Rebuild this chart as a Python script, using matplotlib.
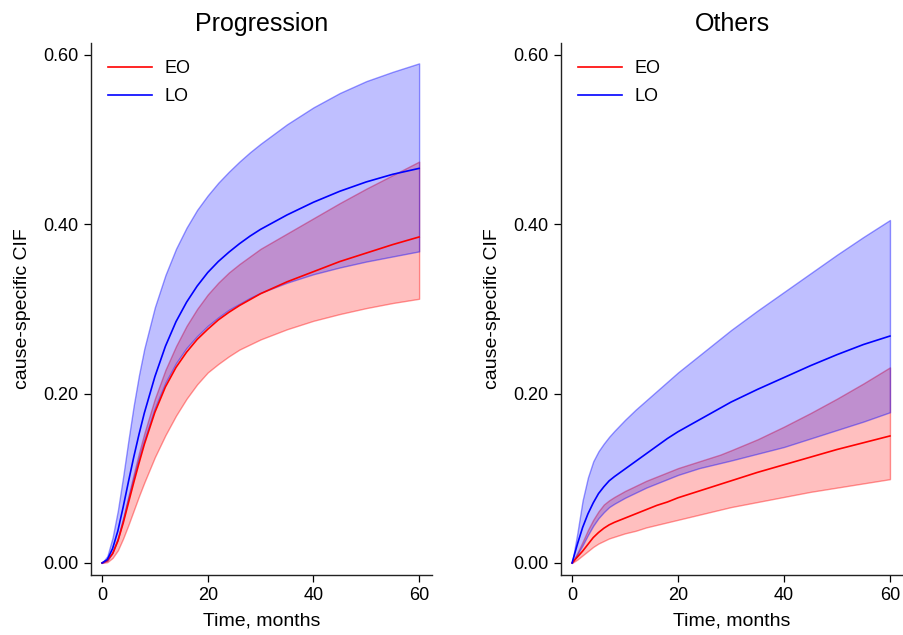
import matplotlib
matplotlib.use("Agg")
import matplotlib.pyplot as plt

plt.rcParams["font.family"] = ["Liberation Sans", "DejaVu Sans"]

# ------------------------------------------------------------------ data
months = [0, 1, 2, 3, 4, 5, 6, 7, 8, 10, 12, 14, 16, 18, 20,
          22, 24, 26, 28, 30, 35, 40, 45, 50, 55, 60]

# Progression: point estimate and band (lower, upper) per group
prog_eo = [0, 0.003, 0.011, 0.026, 0.047, 0.071, 0.095, 0.118, 0.140,
           0.178, 0.208, 0.231, 0.249, 0.264, 0.276, 0.287, 0.296, 0.304,
           0.311, 0.318, 0.332, 0.344, 0.356, 0.366, 0.376, 0.385]
prog_eo_lo = [0, 0.001, 0.006, 0.015, 0.029, 0.045, 0.062, 0.079, 0.095,
              0.125, 0.151, 0.174, 0.194, 0.211, 0.225, 0.235, 0.244, 0.252,
              0.258, 0.264, 0.276, 0.286, 0.294, 0.301, 0.307, 0.312]
prog_eo_hi = [0, 0.003, 0.013, 0.030, 0.053, 0.079, 0.105, 0.130, 0.153,
              0.194, 0.228, 0.256, 0.280, 0.300, 0.317, 0.331, 0.343, 0.353,
              0.362, 0.371, 0.389, 0.407, 0.425, 0.442, 0.458, 0.474]
prog_lo = [0, 0.004, 0.017, 0.038, 0.066, 0.096, 0.125, 0.152, 0.177,
           0.220, 0.256, 0.285, 0.308, 0.327, 0.343, 0.356, 0.367, 0.377,
           0.386, 0.394, 0.411, 0.426, 0.439, 0.450, 0.459, 0.466]
prog_lo_lo = [0, 0.003, 0.012, 0.028, 0.052, 0.077, 0.101, 0.124, 0.145,
              0.183, 0.213, 0.236, 0.254, 0.268, 0.280, 0.290, 0.299, 0.306,
              0.313, 0.319, 0.331, 0.341, 0.349, 0.356, 0.362, 0.368]
prog_lo_hi = [0, 0.008, 0.030, 0.062, 0.102, 0.145, 0.186, 0.222, 0.253,
              0.302, 0.340, 0.371, 0.396, 0.417, 0.434, 0.449, 0.462, 0.474,
              0.485, 0.495, 0.518, 0.538, 0.555, 0.569, 0.580, 0.590]

# Others
oth_eo = [0, 0.007, 0.014, 0.022, 0.030, 0.036, 0.041, 0.045, 0.048,
          0.053, 0.058, 0.063, 0.068, 0.072, 0.077, 0.081, 0.085, 0.089,
          0.093, 0.097, 0.107, 0.116, 0.125, 0.134, 0.142, 0.150]
oth_eo_lo = [0, 0.004, 0.009, 0.014, 0.019, 0.023, 0.026, 0.029, 0.031,
             0.035, 0.038, 0.042, 0.045, 0.048, 0.051, 0.054, 0.057, 0.060,
             0.063, 0.066, 0.072, 0.078, 0.084, 0.089, 0.094, 0.099]
oth_eo_hi = [0, 0.012, 0.025, 0.039, 0.051, 0.061, 0.069, 0.074, 0.078,
             0.085, 0.091, 0.097, 0.102, 0.107, 0.112, 0.116, 0.120, 0.124,
             0.128, 0.133, 0.146, 0.161, 0.177, 0.194, 0.212, 0.231]
oth_lo = [0, 0.022, 0.042, 0.058, 0.071, 0.082, 0.090, 0.097, 0.102,
          0.111, 0.120, 0.129, 0.138, 0.147, 0.155, 0.162, 0.169, 0.176,
          0.183, 0.190, 0.205, 0.219, 0.233, 0.246, 0.258, 0.268]
oth_lo_lo = [0, 0.010, 0.021, 0.033, 0.044, 0.053, 0.060, 0.066, 0.070,
             0.077, 0.083, 0.089, 0.094, 0.099, 0.104, 0.108, 0.112, 0.115,
             0.118, 0.121, 0.129, 0.137, 0.147, 0.157, 0.167, 0.178]
oth_lo_hi = [0, 0.035, 0.074, 0.101, 0.120, 0.132, 0.141, 0.149, 0.156,
             0.169, 0.181, 0.192, 0.203, 0.214, 0.225, 0.235, 0.245, 0.255,
             0.265, 0.275, 0.298, 0.320, 0.342, 0.364, 0.385, 0.405]

y_ticks = [0.0, 0.2, 0.4, 0.6]
x_ticks = [0, 20, 40, 60]

panels = [
    ("Progression", prog_eo, prog_eo_lo, prog_eo_hi,
     prog_lo, prog_lo_lo, prog_lo_hi),
    ("Others", oth_eo, oth_eo_lo, oth_eo_hi,
     oth_lo, oth_lo_lo, oth_lo_hi),
]

# ------------------------------------------------------------------ plot
fig = plt.figure(figsize=(9.04, 6.35), dpi=100)
positions = [[0.1007, 0.0945, 0.3773, 0.8377],
             [0.6206, 0.0945, 0.3783, 0.8377]]

for pos, (title, eo, eo_lo, eo_hi, lo, lo_lo, lo_hi) in zip(positions, panels):
    ax = fig.add_axes(pos)
    # red band + line first, blue drawn over it (gives the purple overlap)
    ax.fill_between(months, eo_lo, eo_hi, facecolor=(1, 0, 0, 0.25),
                    edgecolor=(1, 0, 0, 0.4), linewidth=1.0)
    ax.plot(months, eo, color="red", linewidth=1.2, label="EO")
    ax.fill_between(months, lo_lo, lo_hi, facecolor=(0, 0, 1, 0.25),
                    edgecolor=(0, 0, 1, 0.4), linewidth=1.0)
    ax.plot(months, lo, color="blue", linewidth=1.2, label="LO")

    ax.set_xlim(-2.08, 62.46)
    ax.set_ylim(-0.0142, 0.614)
    ax.set_xticks(x_ticks)
    ax.set_yticks(y_ticks)
    ax.set_yticklabels([f"{v:.2f}" for v in y_ticks])
    ax.tick_params(labelsize=13, length=5, width=0.9, direction="out", pad=4)
    for side in ("top", "right"):
        ax.spines[side].set_visible(False)
    for side in ("left", "bottom"):
        ax.spines[side].set_linewidth(1.0)
        ax.spines[side].set_color("#222222")

    ax.set_title(title, fontsize=18, pad=9)
    ax.set_xlabel("Time, months", fontsize=14, labelpad=6)
    ax.set_ylabel("cause-specific CIF", fontsize=14, labelpad=9)
    ax.legend(loc="upper left", frameon=False, fontsize=13,
              handlelength=2.4, handletextpad=0.7, borderaxespad=0.55,
              labelspacing=0.62)

fig.savefig("out.png", dpi=100)
